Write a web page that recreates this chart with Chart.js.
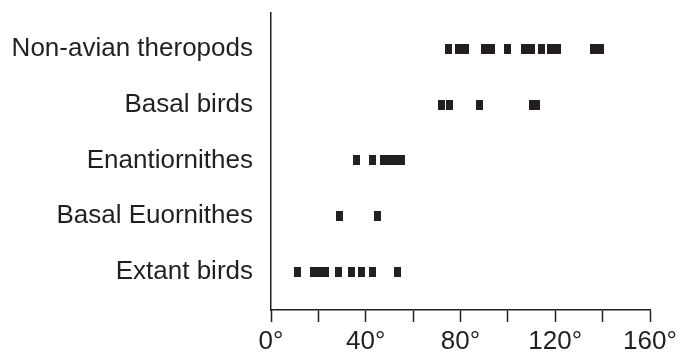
<!DOCTYPE html>
<html>
<head>
<meta charset="utf-8">
<style>
  html, body { margin: 0; padding: 0; background: #fff; }
  #wrap { width: 683px; height: 354px; }
</style>
<script src="https://cdn.jsdelivr.net/npm/chart.js@4"></script>
</head>
<body>
<div id="wrap"><canvas id="myChart" width="683" height="354"></canvas></div>
<script>
// groups, bottom row first
const groups = ['Extant birds', 'Basal Euornithes', 'Enantiornithes', 'Basal birds', 'Non-avian theropods'];

// angle values (degrees)
const extantBirds = [11, 18, 20, 23, 28.5, 34, 38, 43, 53.5];
const basalEuornithes = [29, 45];
const enantiornithes = [36, 43, 47.5, 50, 52.5, 55];
const basalBirds = [72, 75.5, 88, 110.5, 112];
const nonAvianTheropods = [75, 79, 82, 90, 93, 100, 107, 110, 114, 118, 121, 136, 139];

const xTicks = [0, 20, 40, 60, 80, 100, 120, 140, 160];
const labelledTicks = [0, 40, 80, 120, 160];

const ink = '#231f20';
const font = { family: '"Liberation Sans", Arial, sans-serif', size: 26 };

// little upright block used as the marker
function makeMarker() {
    const c = document.createElement('canvas');
    c.width = 7;
    c.height = 10;
    const g = c.getContext('2d');
    g.fillStyle = ink;
    g.fillRect(0, 0, 7, 10);
    return c;
}
const marker = makeMarker();

const rows = [extantBirds, basalEuornithes, enantiornithes, basalBirds, nonAvianTheropods];

const datasets = rows.map((vals, i) => ({
    label: groups[i],
    data: vals.map(v => ({ x: v, y: i + 1 })),
    pointStyle: marker,
    backgroundColor: ink,
    borderColor: ink,
}));

const ctx = document.getElementById('myChart').getContext('2d');
new Chart(ctx, {
    type: 'scatter',
    data: { datasets: datasets },
    options: {
        responsive: false,
        animation: false,
        layout: { padding: { top: 13, right: 33, left: 0, bottom: 0 } },
        plugins: { legend: { display: false }, tooltip: { enabled: false } },
        scales: {
            x: {
                type: 'linear',
                min: 0,
                max: 160,
                afterBuildTicks: scale => { scale.ticks = xTicks.map(v => ({ value: v })); },
                afterFit: scale => {
                    scale.height = 44;
                    scale.paddingLeft = 0;
                    scale.paddingRight = 0;
                },
                ticks: {
                    color: ink,
                    font: font,
                    padding: 4,
                    maxRotation: 0,
                    autoSkip: false,
                    callback: v => labelledTicks.includes(v) ? v + '°' : ''
                },
                grid: {
                    drawOnChartArea: false,
                    drawTicks: true,
                    tickLength: 12,
                    tickColor: ink,
                    tickWidth: 1.5
                },
                border: { color: ink, width: 1.5 }
            },
            y: {
                type: 'linear',
                min: 0.32,
                max: 5.64,
                afterBuildTicks: scale => { scale.ticks = groups.map((g, i) => ({ value: i + 1 })); },
                afterFit: scale => {
                    scale.width = 271;
                    scale.paddingTop = 0;
                    scale.paddingBottom = 0;
                },
                ticks: {
                    color: ink,
                    font: font,
                    padding: 18,
                    autoSkip: false,
                    callback: v => groups[v - 1]
                },
                grid: { drawOnChartArea: false, drawTicks: false },
                border: { color: ink, width: 1.5 }
            }
        }
    }
});
</script>
</body>
</html>
